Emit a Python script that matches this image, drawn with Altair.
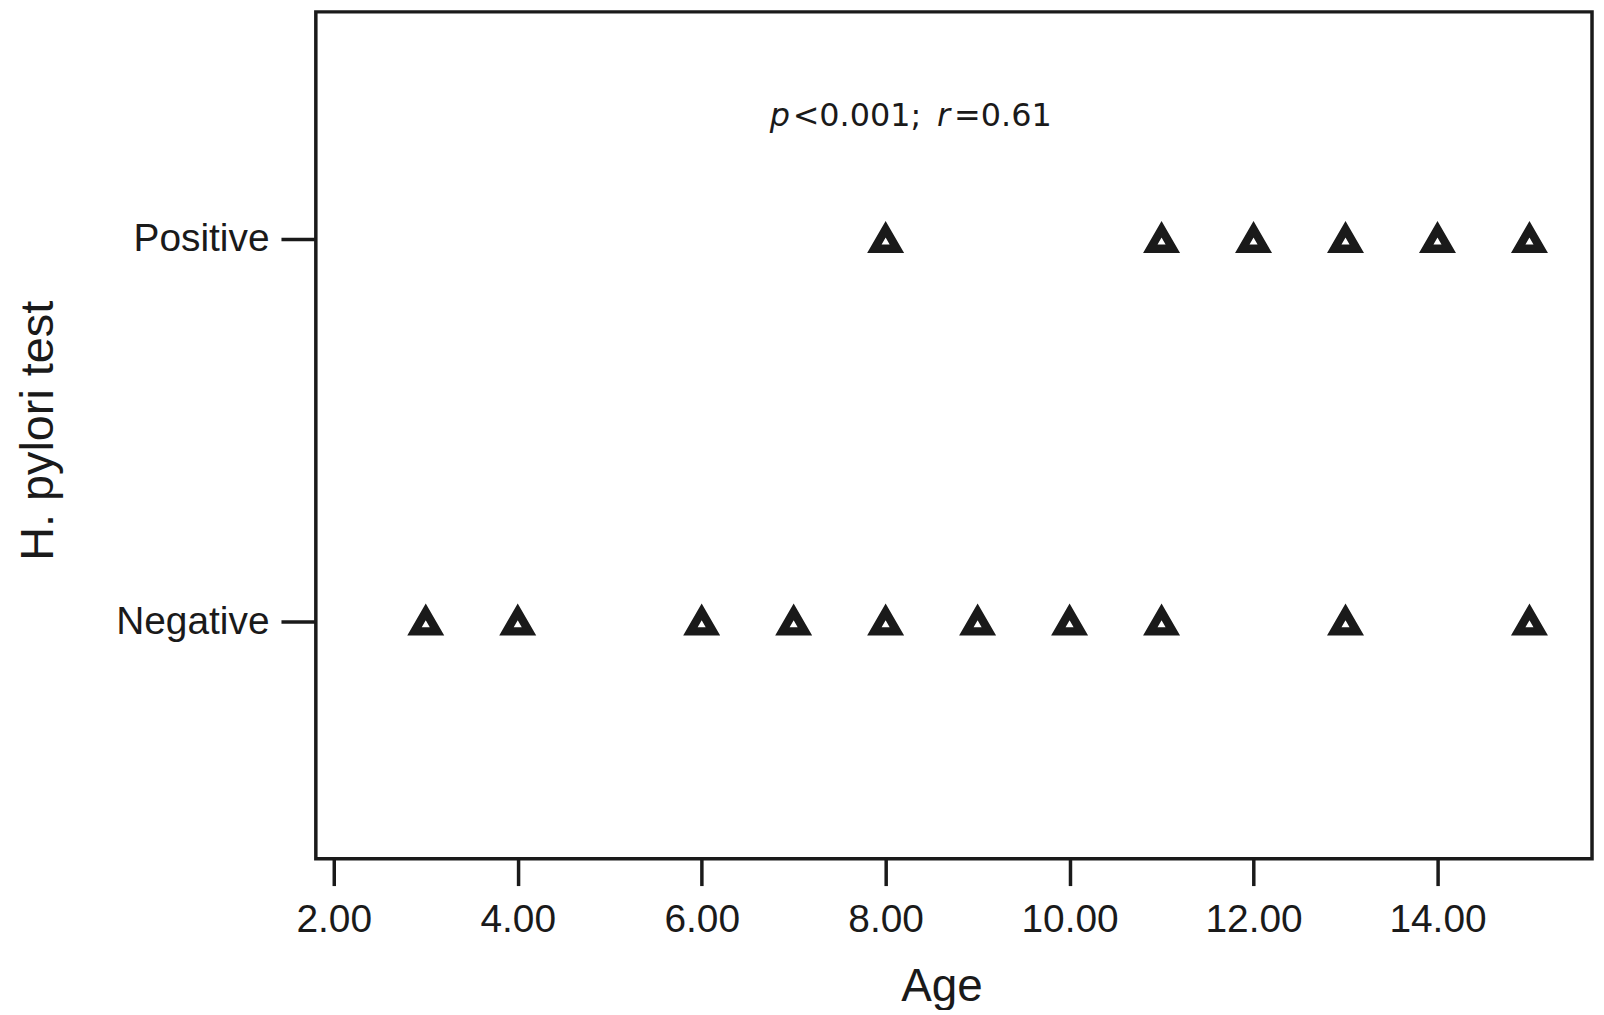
import altair as alt
import pandas as pd

# Data
positive_ages = [8, 11, 12, 13, 14, 15]
negative_ages = [3, 4, 6, 7, 8, 9, 10, 11, 13, 15]
categories = ["Positive", "Negative"]
x_ticks = [2, 4, 6, 8, 10, 12, 14]
x_domain = [1.805, 15.68]

ann_x = [6.74]
ann_pieces = ["p", "<0.001; ", "r", "=0.61"]

rows = [{"age": a, "status": "Positive"} for a in positive_ages] + \
       [{"age": a, "status": "Negative"} for a in negative_ages]
df = pd.DataFrame(rows)

INK = "#1a1a1a"
FONT = "Liberation Sans"

x_enc = alt.X(
    "age:Q",
    scale=alt.Scale(domain=x_domain, nice=False, zero=False),
    axis=alt.Axis(
        values=x_ticks, format=".2f", title="Age",
        grid=False, domain=False,
        tickSize=27, tickWidth=3.5, tickColor=INK,
        labelFontSize=39, labelColor=INK, labelPadding=15, labelFont=FONT,
        titleFontSize=46, titleFontWeight="normal", titleColor=INK, titleFont=FONT,
        titlePadding=25, titleX=628,
    ),
)

y_enc = alt.Y(
    "status:N",
    scale=alt.Scale(type="point", domain=categories, range=[228, 612], padding=0),
    axis=alt.Axis(
        title="H. pylori test", grid=False, domain=False,
        tickSize=35, tickWidth=3.5, tickColor=INK,
        labelFontSize=39, labelColor=INK, labelPadding=12, labelFont=FONT,
        titleFontSize=47, titleFontWeight="normal", titleColor=INK, titleFont=FONT,
        titlePadding=54,
    ),
)

points = alt.Chart(df).mark_point(
    shape="triangle-up", filled=False, size=510, strokeWidth=8.4,
    strokeJoin="miter", color=INK, opacity=1,
).encode(x=x_enc, y=y_enc)

# annotation pieces (italic p and r)
ann_df = pd.DataFrame({"x": ann_x * 4, "t": ann_pieces, "k": [0, 1, 2, 3]})
ann_layers = []
dxs = [0, 23, 168, 185]
styles = ["italic", "normal", "italic", "normal"]
for i in range(4):
    ann_layers.append(
        alt.Chart(ann_df).transform_filter(alt.datum.k == i).mark_text(
            align="left", baseline="alphabetic", dx=dxs[i],
            fontSize=32, font="DejaVu Sans", fontStyle=styles[i], color=INK,
        ).encode(
            x=alt.X("x:Q", scale=alt.Scale(domain=x_domain, nice=False, zero=False)),
            y=alt.value(115),
            text="t:N",
        )
    )

chart = alt.layer(points, *ann_layers).properties(
    width=1281, height=850,
    autosize=alt.AutoSizeParams(type="none"),
    padding={"left": 309, "top": 2, "right": 4, "bottom": 150},
).configure(
    font=FONT, background="white",
).configure_view(
    stroke="#1a1a1a", strokeWidth=3.5,
)

chart.save("out.html", embed_options={"renderer": "svg", "actions": False})
